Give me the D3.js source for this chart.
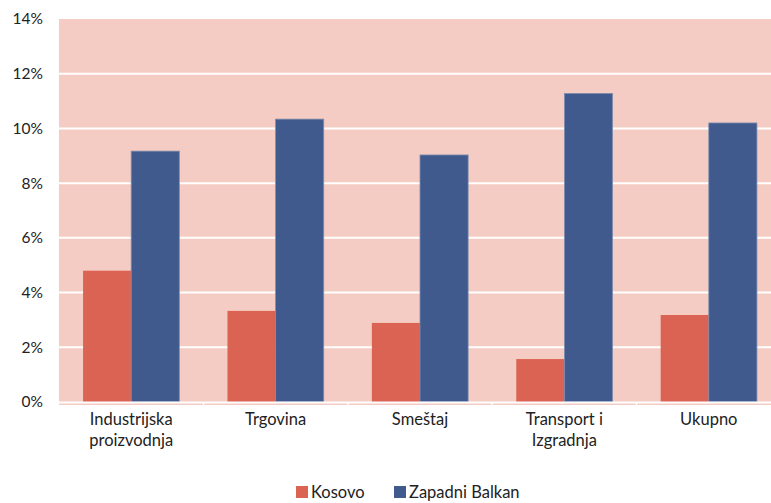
<!DOCTYPE html>
<html>
<head>
<meta charset="utf-8">
<script src="https://cdn.jsdelivr.net/npm/d3@7"></script>
<style>
  body { margin: 0; background: #fff; }
  text { font-family: Lato, "Open Sans", sans-serif; fill: #222; }
</style>
</head>
<body>
<div id="chart"></div>
<script>
const categories = [["Industrijska", "proizvodnja"], ["Trgovina"], ["Smeštaj"], ["Transport i", "Izgradnja"], ["Ukupno"]];
const seriesNames = ["Kosovo", "Zapadni Balkan"];
const kosovo = [4.8, 3.33, 2.89, 1.57, 3.18];
const zapadniBalkan = [9.17, 10.34, 9.03, 11.28, 10.2];
const yTicks = [0, 2, 4, 6, 8, 10, 12, 14];

const colors = ["#DB6353", "#415A8D"];
const svgWidth = 771, svgHeight = 503;
const margin = { top: 19, left: 59 };
const width = 722, height = 383;

const svg = d3.select("#chart").append("svg")
  .attr("width", svgWidth).attr("height", svgHeight);

const g = svg.append("g").attr("transform", `translate(${margin.left},${margin.top})`);

const x = d3.scaleBand().domain(d3.range(categories.length)).range([0, width]).paddingInner(0).paddingOuter(0);
const x1 = d3.scaleBand().domain(d3.range(seriesNames.length)).range([0, x.bandwidth()]).paddingInner(0).paddingOuter(0.5);
const y = d3.scaleLinear().domain([0, 14]).range([height, 0]);

// plot background
g.append("rect").attr("x", 0).attr("y", 0).attr("width", width).attr("height", height + 3)
  .attr("fill", "#F4CCC3");

// gridlines
g.selectAll(".grid").data(yTicks.filter(d => d > 0 && d < 14)).join("line")
  .attr("x1", 0).attr("x2", width)
  .attr("y1", d => y(d)).attr("y2", d => y(d))
  .attr("stroke", "#fff").attr("stroke-width", 2);

// y labels
g.selectAll(".ylab").data(yTicks).join("text")
  .attr("x", -16).attr("y", d => y(d)).attr("dy", "0.35em")
  .attr("text-anchor", "end").style("font-size", "15.5px")
  .text(d => d + "%");

// bars
const series = [kosovo, zapadniBalkan];
series.forEach((vals, si) => {
  g.selectAll(".bar" + si).data(vals).join("rect")
    .attr("x", (d, i) => x(i) + x1(si))
    .attr("y", d => y(d))
    .attr("width", x1.bandwidth())
    .attr("height", d => height - y(d))
    .attr("fill", colors[si])
    .attr("stroke", si === 1 ? "#7d8db0" : "none")
    .attr("stroke-width", 0.8);
});

// x axis line
g.append("line").attr("x1", 0).attr("x2", width).attr("y1", height + 0.5).attr("y2", height + 0.5)
  .attr("stroke", "#fff").attr("stroke-width", 2);
g.selectAll(".sep").data(d3.range(1, categories.length)).join("line")
  .attr("x1", i => x(i)).attr("x2", i => x(i))
  .attr("y1", height).attr("y2", height + 3)
  .attr("stroke", "#fff").attr("stroke-width", 1.5);

// x labels
categories.forEach((lines, i) => {
  const t = g.append("text").attr("x", x(i) + x.bandwidth() / 2).attr("y", 425 - margin.top)
    .attr("text-anchor", "middle").style("font-size", "16.5px");
  lines.forEach((l, li) => t.append("tspan").attr("x", x(i) + x.bandwidth() / 2).attr("dy", li ? 21 : 0).text(l));
});

// legend
const legendPos = [296, 394];
seriesNames.forEach((n, i) => {
  svg.append("rect").attr("x", legendPos[i]).attr("y", 486).attr("width", 12).attr("height", 12).attr("fill", colors[i]);
  svg.append("text").attr("x", legendPos[i] + 15).attr("y", 498).style("font-size", "16.5px").text(n);
});
</script>
</body>
</html>
